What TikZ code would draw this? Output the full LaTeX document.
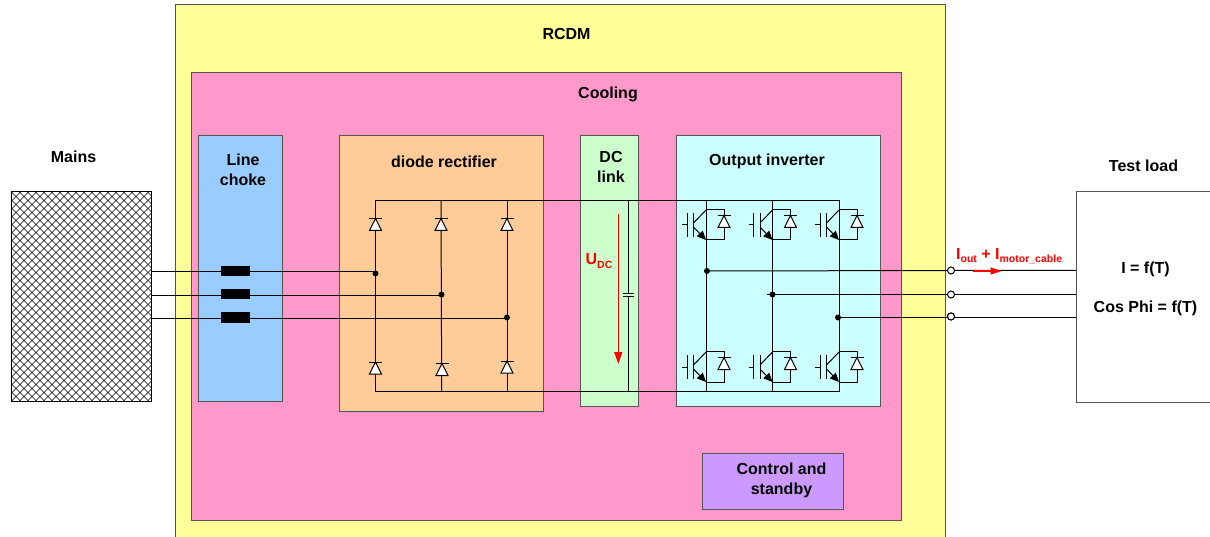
\documentclass[tikz,border=0pt]{standalone}
\usepackage{fontspec}
\setmainfont{Liberation Sans}
\usetikzlibrary{arrows.meta}
\definecolor{rcdmyellow}{HTML}{FFFF99}
\definecolor{coolpink}{HTML}{FF99CC}
\definecolor{chokeblue}{HTML}{99CCFF}
\definecolor{rectorange}{HTML}{FFCC99}
\definecolor{linkgreen}{HTML}{CCFFCC}
\definecolor{invcyan}{HTML}{CCFFFF}
\definecolor{ctrlpurple}{HTML}{CC99FF}
\definecolor{edgegray}{HTML}{555555}
\newcommand{\lowtext}[1]{\raisebox{-0.22em}{\fontsize{10.5}{12}\selectfont #1}}
\tikzset{
  block/.style    = {draw=edgegray, line width=1pt, anchor=north west, inner sep=0pt, outer sep=0pt},
  title/.style    = {align=center, font=\fontsize{16}{20}\selectfont\bfseries, inner sep=0pt},
  redtext/.style  = {title, text=red},
  wire/.style     = {-, line width=1pt, black},
  redflow/.style  = {line width=1.2pt, red},
  dot/.style      = {circle, fill=black, inner sep=0pt, minimum size=6pt},
  terminal/.style = {circle, draw=black, fill=white, line width=1pt, inner sep=0pt, minimum size=7pt},
  choke/.style    = {fill=black, inner sep=0pt, minimum width=29pt, minimum height=10pt},
  diode/.pic = {
    \draw[line width=1pt, fill=white] (0,-6) -- (6,6) -- (-6,6) -- cycle;
    \draw[line width=1pt] (-6.5,-6) -- (6.5,-6);
  },
  igbt/.pic = {
    \draw[line width=1pt] (-24,0) -- (-19,0) (-19,-12) -- (-19,12) (-12.5,-12) -- (-12.5,12);
    \draw[line width=1pt] (-12.5,-2) -- (0,-15);
    \draw[line width=1pt, -{Stealth[inset=0pt,length=9pt,width=8pt]}] (-12.5,2) -- (0,15);
    \draw[line width=1pt] (0,-15.5) -- (18,-15.5) -- (18,15) -- (0,15);
    \pic at (18,-3.5) {diode};
  },
}
\begin{document}
\begin{tikzpicture}[x=1pt, y=-1pt]
  \useasboundingbox (0,0) rectangle (1210,537);
  \begin{scope}
  \clip (0,0) rectangle (1210,537);
  % enclosures
  \node[block, fill=rcdmyellow, minimum width=770pt, minimum height=545pt] (rcdm) at (175,5) {};
  \node[block, fill=coolpink, minimum width=710pt, minimum height=447pt] (cooling) at (191,73) {};
  \node[block, fill=chokeblue, minimum width=84pt, minimum height=265pt] (linechoke) at (198,136) {};
  \node[block, fill=rectorange, minimum width=204pt, minimum height=275pt] (rectifier) at (339,136) {};
  \node[block, fill=linkgreen, minimum width=58pt, minimum height=270pt] (dclink) at (580,136) {};
  \node[block, fill=invcyan, minimum width=204pt, minimum height=270pt] (inverter) at (676,136) {};
  \node[block, fill=ctrlpurple, minimum width=141pt, minimum height=56pt] (control) at (702,453) {};
  \node[block, fill=white, minimum width=145pt, minimum height=210pt] (testload) at (1076,192) {};
  \node[block, draw=none, fill=white, minimum width=140pt, minimum height=209pt] (mains) at (11.5,192) {};
  \end{scope}
  % mains hatching
  \begin{scope}
  \clip (mains.north west) rectangle (mains.south east);
  \foreach \hatchx in {-216,-208,...,152} {
    \draw[line width=.6pt] (\hatchx+11.5,192) -- ++(209,209);
    \draw[line width=.6pt] (\hatchx+220.5,192) -- ++(-209,209);
  }
  \end{scope}
  \draw[line width=1pt] (mains.north west) rectangle (mains.south east);

  % titles
  \node[title] (rcdmtitle) at (566.5,34) {RCDM};
  \node[title] (coolingtitle) at (608,94) {Cooling};
  \node[title] (mainstitle) at (73.5,157) {Mains};
  \node[title] (chokelabel) at (243,169.5) {Line\\choke};
  \node[title] (rectlabel) at (444,162) {diode rectifier};
  \node[title] (linklabel) at (611,167) {DC\\link};
  \node[title] (invlabel) at (767,161) {Output inverter};
  \node[title] (ctrllabel) at (781.5,480) {Control and\\standby};
  \node[title] (loadtitle) at (1143.5,166) {Test load};
  \node[title] (loadcurrent) at (1145.5,269) {I = f(T)};
  \node[title] (loadphi) at (1145.5,308) {Cos Phi = f(T)};

  % rails and legs
  \coordinate (railtopL) at (375.5,201);
  \coordinate (railtopR) at (839,201);
  \coordinate (railbotL) at (375.5,391.5);
  \coordinate (railbotR) at (839,391.5);
  \draw[wire] (railtopL) -- (railtopR) -- (railbotR) -- (railbotL) -- cycle;
  \coordinate (legtopB) at (441,201);
  \coordinate (legbotB) at (441.7,391.5);
  \coordinate (legtopC) at (507,201);
  \coordinate (legbotC) at (507,391.5);
  \draw[wire] (legtopB) -- (legbotB);
  \draw[wire] (legtopC) -- (legbotC);
  \coordinate (igtopA) at (706,201);
  \coordinate (igbotA) at (706,391.5);
  \coordinate (igtopB) at (772.5,201);
  \coordinate (igbotB) at (772.5,391.5);
  \draw[wire] (igtopA) -- (igbotA);
  \draw[wire] (igtopB) -- (igbotB);

  % phases in
  \coordinate (phaseA) at (151.5,272);
  \coordinate (phaseB) at (151.5,295.5);
  \coordinate (phaseC) at (151.5,318.5);
  \node[dot] (dotA) at (375.5,273.5) {};
  \node[dot] (dotB) at (441.5,294.5) {};
  \node[dot] (dotC) at (507,317.5) {};
  \draw[wire] (phaseA) -- (phaseA -| dotA);
  \draw[wire] (phaseB) -- (phaseB -| dotB);
  \draw[wire] (phaseC) -- (phaseC -| dotC);
  \node[choke] (chokeA) at (235.5,271) {};
  \node[choke] (chokeB) at (235.5,294.5) {};
  \node[choke] (chokeC) at (235.5,317.5) {};

  % rectifier diodes
  \pic at (375.5,224.5) {diode};
  \pic at (441,224.5) {diode};
  \pic at (507,224.5) {diode};
  \pic at (375.5,368) {diode};
  \pic at (442,369.5) {diode};
  \pic at (507,367) {diode};

  % dc link
  \coordinate (captop) at (628,201);
  \coordinate (capbot) at (628,391.5);
  \coordinate (plateA) at (628,294);
  \coordinate (plateB) at (628,297);
  \draw[wire] (captop) -- (plateA);
  \draw[wire] (plateB) -- (capbot);
  \draw[wire] ([xshift=-5.5pt]plateA) -- ([xshift=5.5pt]plateA);
  \draw[wire] ([xshift=-5.5pt]plateB) -- ([xshift=5.5pt]plateB);
  \coordinate (udctop) at (618.3,214);
  \coordinate (udcbot) at (618.3,364);
  \draw[redflow, -{Stealth[inset=0pt,length=12pt,width=8pt]}] (udctop) -- (udcbot);
  \node[redtext] (udclabel) at (599,261) {U\lowtext{DC}};

  % inverter
  \pic at (706,225) {igbt};
  \pic at (772.5,225) {igbt};
  \pic at (839,225) {igbt};
  \pic at (706,367) {igbt};
  \pic at (772.5,367) {igbt};
  \pic at (839,367) {igbt};

  % phases out
  \node[dot] (outA) at (707,271) {};
  \node[dot] (outB) at (772.5,294.5) {};
  \node[dot] (outC) at (838,317.5) {};
  \node[terminal] (termA) at (951,270.5) {};
  \node[terminal] (termB) at (951,294.5) {};
  \node[terminal] (termC) at (951,316.5) {};
  \draw[wire] (outA) -- (termA) -- (termA -| testload.west);
  \draw[wire] ([xshift=-6pt]outB.center) -- (termB) -- (termB -| testload.west);
  \draw[wire] (outC) -- (termC |- outC) -- (testload.west |- outC);
  \node[terminal] at (termC) {};
  \coordinate (flowstart) at (972.7,271);
  \coordinate (flowend) at (1001.7,271);
  \draw[redflow, -{Stealth[inset=0pt,length=11pt,width=7pt]}] (flowstart) -- (flowend);
  \node[redtext, anchor=west] (flowlabel) at (956,256) {I\lowtext{out} + I\lowtext{motor\_cable}};
\end{tikzpicture}
\end{document}
